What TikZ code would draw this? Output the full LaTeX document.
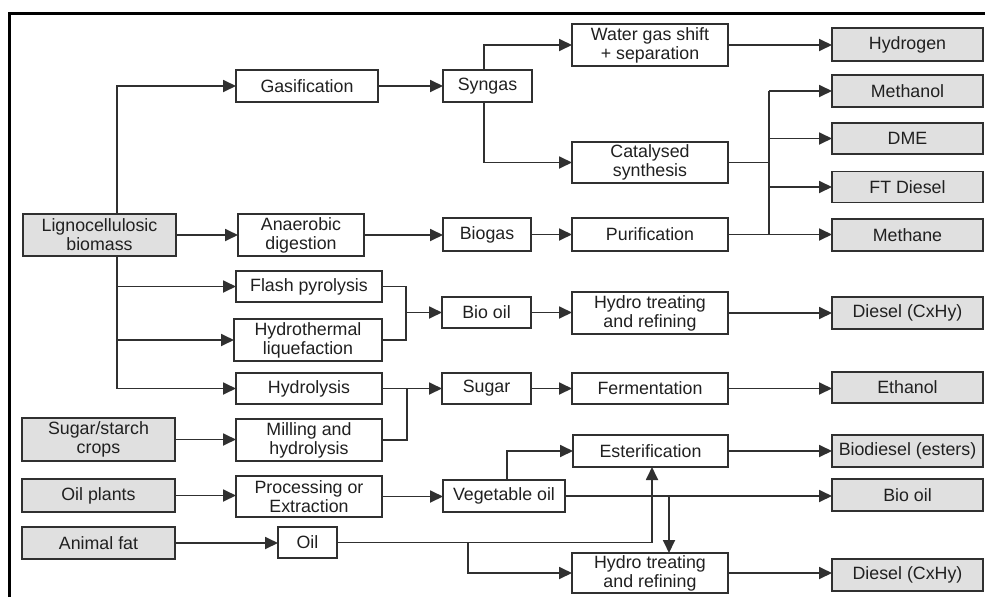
\documentclass[tikz,border=0pt]{standalone}
\usepackage{fontspec}
\setmainfont{Liberation Sans}
\usetikzlibrary{arrows.meta}
\definecolor{linec}{HTML}{303030}
\definecolor{boxfill}{HTML}{E0E0E0}
\definecolor{txtc}{HTML}{202020}
\tikzset{
  box/.style={draw=linec, line width=1.8pt, fill=white, inner sep=0pt, outer sep=0pt,
    align=center, text=txtc, font=\fontsize{17.8}{19}\selectfont},
  prod/.style={box, fill=boxfill},
  conn/.style={draw=linec, line width=1.8pt},
  arr/.style={conn, -{Triangle[length=13pt,width=12pt]}},
}
\begin{document}
\begin{tikzpicture}[x=1pt,y=-1pt]
\useasboundingbox (0,0) rectangle (985,597);
\fill[white] (0,0) rectangle (985,597);
\draw[line width=3pt, black] (9,597) -- (9,13.5) -- (985,13.5);

% sources
\node[prod, minimum width=153pt, minimum height=42pt] (lig) at (99.5,235) {Lignocellulosic\\biomass};
\node[prod, minimum width=153pt, minimum height=43pt] (ssc) at (98.5,439.5) {Sugar/starch\\crops};
\node[prod, minimum width=153pt, minimum height=33pt] (oilp) at (98.5,495.5) {Oil plants};
\node[prod, minimum width=153pt, minimum height=32pt] (afat) at (98.5,543) {Animal fat};

% column 2
\node[box, minimum width=142pt, minimum height=32pt] (gas) at (307,86) {Gasification};
\node[box, minimum width=126pt, minimum height=42pt] (ana) at (301,235) {Anaerobic\\digestion};
\node[box, minimum width=146pt, minimum height=31pt] (flash) at (309,286.5) {Flash pyrolysis};
\node[box, minimum width=148pt, minimum height=42pt] (htl) at (308,340) {Hydrothermal\\liquefaction};
\node[box, minimum width=146pt, minimum height=31pt] (hydl) at (309,388.5) {Hydrolysis};
\node[box, minimum width=146pt, minimum height=42pt] (mill) at (309,440) {Milling and\\hydrolysis};
\node[box, minimum width=146pt, minimum height=41pt] (proc) at (309,496.5) {Processing or\\Extraction};
\node[box, minimum width=59pt, minimum height=31pt] (oil) at (307.5,542.5) {Oil};

% column 3
\node[box, minimum width=89pt, minimum height=32pt] (syn) at (487.5,86) {Syngas};
\node[box, minimum width=88pt, minimum height=33pt] (bio) at (487,234.5) {Biogas};
\node[box, minimum width=89pt, minimum height=31pt] (biooil) at (486.5,312.5) {Bio oil};
\node[box, minimum width=89pt, minimum height=31pt] (sugar) at (486.5,388.5) {Sugar};
\node[box, minimum width=122pt, minimum height=32pt] (veg) at (504,496) {Vegetable oil};

% column 4
\node[box, minimum width=156pt, minimum height=42pt] (wgs) at (650,45) {Water gas shift\\+ separation};
\node[box, minimum width=156pt, minimum height=41pt] (cat) at (650,162.5) {Catalysed\\synthesis};
\node[box, minimum width=156pt, minimum height=33pt] (pur) at (650,234.5) {Purification};
\node[box, minimum width=156pt, minimum height=42pt] (ht1) at (650,313) {Hydro treating\\and refining};
\node[box, minimum width=156pt, minimum height=31pt] (ferm) at (650,388.5) {Fermentation};
\node[box, minimum width=155pt, minimum height=32pt] (est) at (650.5,451) {Esterification};
\node[box, minimum width=156pt, minimum height=40pt] (ht2) at (650,573) {Hydro treating\\and refining};

% products
\node[prod, minimum width=151pt, minimum height=33pt] (hyd) at (907.5,44.5) {Hydrogen};
\node[prod, minimum width=151pt, minimum height=32pt] (meth) at (907.5,91) {Methanol};
\node[prod, minimum width=151pt, minimum height=31pt] (dme) at (907.5,138.5) {DME};
\node[prod, minimum width=151pt, minimum height=31pt] (ft) at (907.5,187) {FT Diesel};
\node[prod, minimum width=151pt, minimum height=32pt] (mthn) at (907.5,235) {Methane};
\node[prod, minimum width=151pt, minimum height=32pt] (dies1) at (907.5,313) {Diesel (CxHy)};
\node[prod, minimum width=151pt, minimum height=31pt] (eth) at (907.5,387.5) {Ethanol};
\node[prod, minimum width=151pt, minimum height=32pt] (biod) at (907.5,451) {Biodiesel (esters)};
\node[prod, minimum width=151pt, minimum height=32pt] (biop) at (907.5,495) {Bio oil};
\node[prod, minimum width=151pt, minimum height=32pt] (dies2) at (907.5,575) {Diesel (CxHy)};

% junction coordinates
\coordinate (tx) at (117,0);
\coordinate (sx) at (484,0);
\coordinate (jx) at (769,0);
\coordinate (j2) at (406,0);
\coordinate (j3) at (407,0);
\coordinate (vx) at (507,0);
\coordinate (dx) at (669,0);
\coordinate (ex) at (652,0);
\coordinate (ox) at (468,0);

% trunk from lignocellulosic biomass
\draw[arr] (lig.north -| tx) |- (gas.west);
\draw[arr] (lig.south -| tx) |- (hydl.west);
\draw[arr] (tx |- flash.west) -- (flash.west);
\draw[arr] (tx |- htl.west) -- (htl.west);
\draw[arr] (lig.east) -- (lig.east -| ana.west);

% gasification branch
\draw[arr] (gas.east) -- (gas.east -| syn.west);
\draw[arr] (syn.north -| sx) |- (wgs.west);
\draw[arr] (syn.south -| sx) |- (cat.west);
\draw[arr] (wgs.east) -- (wgs.east -| hyd.west);
\draw[conn] (cat.east) -- (cat.east -| jx);
\draw[conn] (jx |- meth.west) -- (jx |- mthn.west);
\draw[arr] (jx |- meth.west) -- (meth.west);
\draw[arr] (jx |- dme.west) -- (dme.west);
\draw[arr] (jx |- ft.west) -- (ft.west);

% anaerobic digestion branch
\draw[arr] (ana.east) -- (ana.east -| bio.west);
\draw[arr] (bio.east) -- (bio.east -| pur.west);
\draw[arr] (pur.east) -- (pur.east -| mthn.west);

% pyrolysis / liquefaction
\draw[conn] (flash.east) -| (j2 |- htl.east) -- (htl.east);
\draw[arr] (j2 |- biooil.west) -- (biooil.west);
\draw[arr] (biooil.east) -- (biooil.east -| ht1.west);
\draw[arr] (ht1.east) -- (ht1.east -| dies1.west);

% sugar route
\draw[arr] (hydl.east) -- (hydl.east -| sugar.west);
\draw[conn] (mill.east) -| (j3 |- hydl.east);
\draw[arr] (ssc.east) -- (ssc.east -| mill.west);
\draw[arr] (sugar.east) -- (sugar.east -| ferm.west);
\draw[arr] (ferm.east) -- (ferm.east -| eth.west);

% oil routes
\draw[arr] (oilp.east) -- (oilp.east -| proc.west);
\draw[arr] (proc.east) -- (proc.east -| veg.west);
\draw[arr] (afat.east) -- (afat.east -| oil.west);
\draw[arr] (veg.north -| vx) |- (est.west);
\draw[arr] (veg.east) -- (veg.east -| biop.west);
\draw[arr] (veg.east -| dx) -- (ht2.north -| dx);
\draw[arr] (oil.east) -| (est.south -| ex);
\draw[arr] (oil.east -| ox) |- (ht2.west);
\draw[arr] (est.east) -- (est.east -| biod.west);
\draw[arr] (ht2.east) -- (ht2.east -| dies2.west);
\end{tikzpicture}
\end{document}
